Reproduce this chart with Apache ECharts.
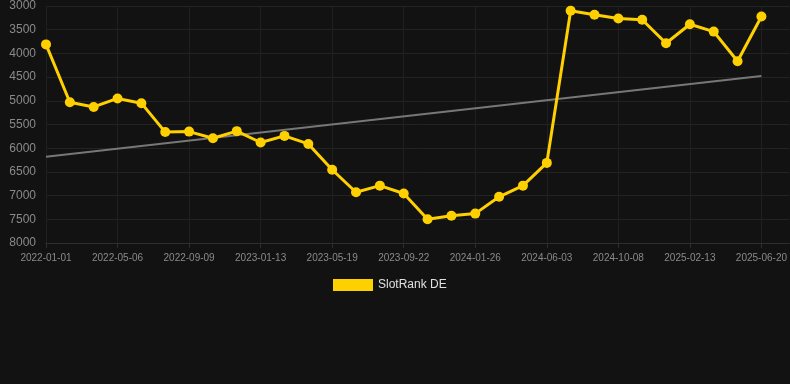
<!DOCTYPE html>
<html>
<head>
<meta charset="utf-8">
<script src="https://cdn.jsdelivr.net/npm/echarts@6/dist/echarts.min.js"></script>
<style>
html,body{margin:0;padding:0;background:#121212;}
#chart{width:790px;height:384px;}
</style>
</head>
<body>
<div id="chart"></div>
<script>
var dates = [
  "2022-01-01","2022-02-12","2022-03-26","2022-05-06","2022-06-17","2022-07-29",
  "2022-09-09","2022-10-21","2022-12-02","2023-01-13","2023-02-24","2023-04-07",
  "2023-05-19","2023-06-30","2023-08-11","2023-09-22","2023-11-03","2023-12-15",
  "2024-01-26","2024-03-08","2024-04-22","2024-06-03","2024-07-15","2024-08-27",
  "2024-10-08","2024-11-19","2025-01-01","2025-02-13","2025-03-28","2025-05-09",
  "2025-06-20"
];
var rankValues = [
  3810, 5030, 5130, 4950, 5050, 5660,
  5650, 5790, 5640, 5880, 5740, 5910,
  6455, 6930, 6790, 6955, 7500, 7425,
  7380, 7025, 6790, 6310, 3100, 3185,
  3265, 3290, 3785, 3385, 3540, 4165,
  3220
];
var trendStart = 6180;
var trendEnd = 4475;
var yTicks = {min: 3000, max: 8000, step: 500};
var labelEvery = 3;

var lastIdx = dates.length - 1;
var font = 'Arial, "Liberation Sans", sans-serif';
var chart = echarts.init(document.getElementById('chart'), null, {renderer: 'canvas'});
chart.setOption({
  backgroundColor: '#121212',
  animation: false,
  grid: {left: 46, right: 0, top: 6, bottom: 141},
  legend: {
    data: ['SlotRank DE'],
    top: 274,
    left: 328,
    icon: 'rect',
    itemWidth: 40,
    itemHeight: 12,
    textStyle: {color: '#e0e0e0', fontSize: 12, fontFamily: font}
  },
  xAxis: {
    type: 'value',
    min: 0,
    max: lastIdx * (790 - 46) / 716,
    interval: labelEvery,
    axisLine: {show: true, lineStyle: {color: '#2e2e2e'}},
    axisTick: {show: true, lineStyle: {color: '#2e2e2e'}},
    axisLabel: {
      color: '#8a8a8a', fontSize: 10, margin: 10, fontFamily: font,
      showMaxLabel: false,
      formatter: function (v) {
        return (Number.isInteger(v) && dates[v]) ? dates[v] : '';
      }
    },
    splitLine: {show: true, showMaxLine: false, lineStyle: {color: '#202020'}}
  },
  yAxis: {
    type: 'value',
    inverse: true,
    min: yTicks.min,
    max: yTicks.max,
    interval: yTicks.step,
    axisLine: {show: false},
    axisTick: {show: false},
    axisLabel: {color: '#8a8a8a', fontSize: 12, margin: 10, fontFamily: font,
      formatter: function (v) { return String(v); }},
    splitLine: {show: true, lineStyle: {color: '#232323'}}
  },
  series: [
    {
      name: 'Trend',
      type: 'line',
      data: [[0, trendStart], [lastIdx, trendEnd]],
      symbol: 'none',
      lineStyle: {color: '#777777', width: 2},
      z: 1,
      silent: true
    },
    {
      name: 'SlotRank DE',
      type: 'line',
      data: rankValues.map(function (v, i) { return [i, v]; }),
      symbol: 'circle',
      symbolSize: 10,
      itemStyle: {color: '#FFD000'},
      lineStyle: {color: '#FFD000', width: 3},
      z: 3
    }
  ]
});
</script>
</body>
</html>
